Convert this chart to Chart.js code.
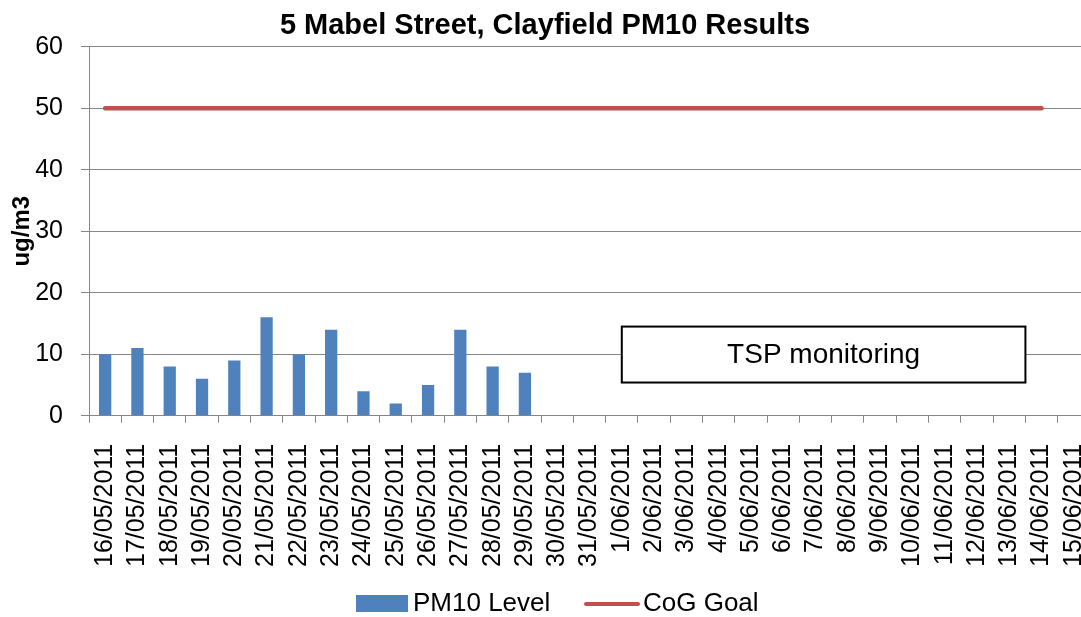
<!DOCTYPE html>
<html>
<head>
<meta charset="utf-8">
<script src="https://cdn.jsdelivr.net/npm/chart.js@4.4.0/dist/chart.umd.min.js"></script>
<style>
    html, body { margin: 0; padding: 0; background: #fff; overflow: hidden; }
    #wrap { width: 1090px; height: 617px; }
</style>
</head>
<body>
<div id="wrap"><canvas id="pmChart"></canvas></div>
<script>
const dates = [
    "16/05/2011", "17/05/2011", "18/05/2011", "19/05/2011", "20/05/2011", "21/05/2011",
    "22/05/2011", "23/05/2011", "24/05/2011", "25/05/2011", "26/05/2011", "27/05/2011",
    "28/05/2011", "29/05/2011", "30/05/2011", "31/05/2011", "1/06/2011", "2/06/2011",
    "3/06/2011", "4/06/2011", "5/06/2011", "6/06/2011", "7/06/2011", "8/06/2011",
    "9/06/2011", "10/06/2011", "11/06/2011", "12/06/2011", "13/06/2011", "14/06/2011",
    "15/06/2011"
];
const pm10Level = [10, 11, 8, 6, 9, 16, 10, 14, 4, 2, 5, 14, 8, 7];
const cogGoal = [
    50, 50, 50, 50, 50, 50, 50, 50, 50, 50, 50, 50, 50, 50, 50,
    50, 50, 50, 50, 50, 50, 50, 50, 50, 50, 50, 50, 50, 50, 50, null
];
const yTicks = [0, 10, 20, 30, 40, 50, 60];
const noteText = "TSP monitoring";

const fontFamily = '"Liberation Sans", Arial, sans-serif';
const gridColor = "#868686";

// note box drawn over the plot, anchored to the scales
const notePlugin = {
    id: "noteBox",
    afterDatasetsDraw(chart) {
        const x = chart.scales.x, y = chart.scales.y;
        const ctx = chart.ctx;
        const left = x.getPixelForValue(16);
        const right = x.getPixelForValue(28) + (x.getPixelForValue(29) - x.getPixelForValue(28)) / 2;
        const top = y.getPixelForValue(14.5);
        const bottom = y.getPixelForValue(5.4);
        ctx.save();
        ctx.fillStyle = "#fff";
        ctx.fillRect(left, top, right - left, bottom - top);
        ctx.strokeStyle = "#000";
        ctx.lineWidth = 2;
        ctx.strokeRect(left, top, right - left, bottom - top);
        ctx.fillStyle = "#000";
        ctx.font = "28px " + fontFamily;
        ctx.textAlign = "center";
        ctx.textBaseline = "middle";
        ctx.fillText(noteText, (left + right) / 2, (top + bottom) / 2 + 1);
        ctx.restore();
    }
};

// legend at the bottom, Excel style
const legendPlugin = {
    id: "bottomLegend",
    afterDraw(chart) {
        const ctx = chart.ctx;
        const sets = chart.data.datasets;
        const cy = 604;
        ctx.save();
        ctx.font = "26px " + fontFamily;
        ctx.textBaseline = "middle";
        ctx.fillStyle = sets[0].backgroundColor;
        ctx.fillRect(356, cy - 9, 52, 17);
        ctx.fillStyle = "#000";
        ctx.fillText(sets[0].label, 413, cy);
        ctx.strokeStyle = sets[1].borderColor;
        ctx.lineWidth = 4;
        ctx.lineCap = "round";
        ctx.beginPath();
        ctx.moveTo(586, cy);
        ctx.lineTo(638, cy);
        ctx.stroke();
        ctx.fillText(sets[1].label, 643, cy);
        ctx.restore();
    }
};

new Chart(document.getElementById("pmChart"), {
    type: "bar",
    data: {
        labels: dates,
        datasets: [
            {
                label: "PM10 Level",
                data: pm10Level,
                backgroundColor: "#4F81BD",
                categoryPercentage: 1,
                barPercentage: 0.38,
                order: 1
            },
            {
                type: "line",
                label: "CoG Goal",
                data: cogGoal,
                borderColor: "#C0504D",
                backgroundColor: "#C0504D",
                borderWidth: 4.5,
                borderCapStyle: "round",
                pointRadius: 0,
                spanGaps: false,
                order: 0
            }
        ]
    },
    options: {
        responsive: true,
        maintainAspectRatio: false,
        animation: false,
        layout: { padding: { left: 0, right: 0, top: 0, bottom: 29 } },
        plugins: {
            legend: { display: false },
            tooltip: { enabled: false },
            title: {
                display: true,
                text: "5 Mabel Street, Clayfield PM10 Results",
                color: "#000",
                font: { family: fontFamily, size: 29, weight: "bold" },
                padding: { top: 9, bottom: 3 }
            }
        },
        scales: {
            x: {
                offset: true,
                afterFit: axis => { axis.paddingLeft = 0; axis.paddingRight = 0; },
                grid: {
                    offset: true,
                    drawOnChartArea: false,
                    drawTicks: true,
                    tickLength: 7,
                    color: gridColor
                },
                border: { color: gridColor },
                ticks: {
                    autoSkip: false,
                    minRotation: 90,
                    maxRotation: 90,
                    padding: 21,
                    color: "#000",
                    font: { family: fontFamily, size: 25 }
                }
            },
            y: {
                min: 0,
                max: 60,
                afterBuildTicks: axis => { axis.ticks = yTicks.map(v => ({ value: v })); },
                afterFit: axis => { axis.width = 89; },
                grid: { color: gridColor, tickLength: 8 },
                border: { color: gridColor },
                ticks: {
                    padding: 18,
                    color: "#000",
                    font: { family: fontFamily, size: 25 }
                },
                title: {
                    display: true,
                    text: "ug/m3",
                    color: "#000",
                    font: { family: fontFamily, size: 24, weight: "bold" },
                    padding: { top: 8, bottom: 0 }
                }
            }
        }
    },
    plugins: [notePlugin, legendPlugin]
});
</script>
</body>
</html>
